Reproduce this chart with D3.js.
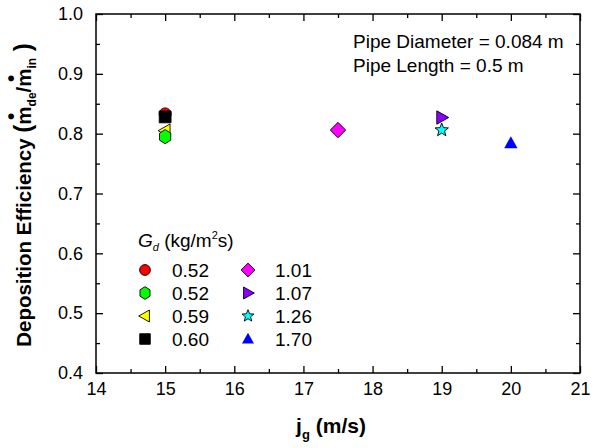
<!DOCTYPE html>
<html><head><meta charset="utf-8">
<script src="https://cdn.jsdelivr.net/npm/d3@7"></script>
<style>body{margin:0;background:#fff}svg{display:block}text{font-family:"Liberation Sans",Arial,sans-serif}</style>
</head><body>
<svg id="c" width="603" height="448"></svg>
<script>
// ---- data ----
const categories = ["0.52","0.52","0.59","0.60","1.01","1.07","1.26","1.70"];
const xValues = [15, 15, 15, 15, 17.5, 19, 19, 20];
const yValues = [0.833, 0.795, 0.805, 0.828, 0.806, 0.827, 0.806, 0.784];
const xTicks = [14,15,16,17,18,19,20,21];
const yTicks = [0.4,0.5,0.6,0.7,0.8,0.9,1.0];
const annotations = ["Pipe Diameter = 0.084 m","Pipe Length = 0.5 m"];
// ---- styles ----
const shapes = ["circle","hexagon","triLeft","square","diamond","triRight","star","triUp"];
const colors = ["#ff0000","#00ff00","#ffff00","#000000","#ff00ff","#8a00ff","#00ffff","#0000ff"];
const drawOrder = [0,2,1,3,4,5,6,7];

const svg = d3.select("#c");
const L=96, R=580, T=14, B=373;
const x = d3.scaleLinear().domain([14,21]).range([L,R]);
const y = d3.scaleLinear().domain([0.4,1.0]).range([B,T]);

function shapePath(s, r){
  const p = d3.path();
  if(s==="circle"){ p.arc(0,0,r*0.9,0,2*Math.PI); p.closePath(); }
  else if(s==="square"){ const a=r*0.88; p.rect(-a,-a,2*a,2*a); }
  else if(s==="diamond"){ const a=r*1.15; p.moveTo(0,-a);p.lineTo(a,0);p.lineTo(0,a);p.lineTo(-a,0);p.closePath(); }
  else if(s==="hexagon"){ const a=r*1.05; for(let i=0;i<6;i++){const t=Math.PI/6+i*Math.PI/3; const px=a*0.92*Math.cos(t), py=a*Math.sin(t); if(i===0)p.moveTo(px,py); else p.lineTo(px,py);} p.closePath(); }
  else if(s.startsWith("tri")){
    const a=r*1.05;
    let pts=[[0,-a],[a*0.95,a*0.7],[-a*0.95,a*0.7]];
    let rot = s==="triUp"?0 : s==="triRight"?90 : -90;
    const th=rot*Math.PI/180;
    pts=pts.map(([px,py])=>[px*Math.cos(th)-py*Math.sin(th), px*Math.sin(th)+py*Math.cos(th)]);
    p.moveTo(...pts[0]);p.lineTo(...pts[1]);p.lineTo(...pts[2]);p.closePath();
  }
  else if(s==="star"){
    const ro=r*1.05, ri=r*0.45;
    for(let i=0;i<10;i++){const rr=i%2?ri:ro; const t=-Math.PI/2+i*Math.PI/5; const px=rr*Math.cos(t), py=rr*Math.sin(t); if(i===0)p.moveTo(px,py); else p.lineTo(px,py);} p.closePath();
  }
  return p.toString();
}
function strokeFor(i){ return i===7 ? "none" : "#000"; }

// axes
function mkAxis(axisFn, vals, size, labels, pad){
  const a = axisFn.tickValues(vals).tickSizeInner(-size).tickSizeOuter(0).tickPadding(pad);
  if(!labels) a.tickFormat("");
  return a;
}
const minorX = d3.range(14.5,21,1);
const minorY = [0.45,0.55,0.65,0.75,0.85,0.95];
function styleAxis(g){ g.select(".domain").remove(); g.selectAll("line").attr("stroke","#000").attr("stroke-width",1.3); g.selectAll("text").attr("font-size","18px").attr("fill","#000").attr("font-family","Liberation Sans, Arial, sans-serif"); }

svg.append("g").attr("transform",`translate(0,${B})`).call(mkAxis(d3.axisBottom(x),xTicks,7,true,9).tickFormat(d3.format("d"))).call(styleAxis);
svg.append("g").attr("transform",`translate(0,${B})`).call(mkAxis(d3.axisBottom(x),minorX,4,false,0)).call(styleAxis);
svg.append("g").attr("transform",`translate(0,${T})`).call(mkAxis(d3.axisTop(x),xTicks,7,false,0)).call(styleAxis);
svg.append("g").attr("transform",`translate(0,${T})`).call(mkAxis(d3.axisTop(x),minorX,4,false,0)).call(styleAxis);
svg.append("g").attr("transform",`translate(${L},0)`).call(mkAxis(d3.axisLeft(y),yTicks,7,true,13).tickFormat(d3.format(".1f"))).call(styleAxis);
svg.append("g").attr("transform",`translate(${L},0)`).call(mkAxis(d3.axisLeft(y),minorY,4,false,0)).call(styleAxis);
svg.append("g").attr("transform",`translate(${R},0)`).call(mkAxis(d3.axisRight(y),yTicks,7,false,0)).call(styleAxis);
svg.append("g").attr("transform",`translate(${R},0)`).call(mkAxis(d3.axisRight(y),minorY,4,false,0)).call(styleAxis);

svg.append("rect").attr("x",L).attr("y",T).attr("width",R-L).attr("height",B-T).attr("fill","none").attr("stroke","#000").attr("stroke-width",1.5);

// points
svg.append("g").selectAll("path").data(drawOrder).join("path")
  .attr("d",i=>shapePath(shapes[i],6.7))
  .attr("transform",i=>`translate(${x(xValues[i])},${y(yValues[i])})`)
  .attr("fill",i=>colors[i]).attr("stroke",i=>strokeFor(i)).attr("stroke-width",0.9);

// annotations
svg.append("g").selectAll("text").data(annotations).join("text")
  .attr("x",353).attr("y",(d,i)=>48+i*24).attr("font-size","19px").attr("fill","#000").text(d=>d);

// legend
const lt = svg.append("text").attr("x",138).attr("y",247).attr("font-size","19px").attr("fill","#000");
lt.append("tspan").attr("font-style","italic").text("G");
lt.append("tspan").attr("font-style","italic").attr("font-size","11px").attr("dy",4).text("d");
lt.append("tspan").attr("dy",-4).text(" (kg/m");
lt.append("tspan").attr("font-size","11px").attr("dy",-8).text("2");
lt.append("tspan").attr("dy",8).text("s)");

const leg = svg.append("g").selectAll("g").data(categories.map((c,i)=>i)).join("g")
  .attr("transform",i=>`translate(${i<4?145:248},${270+(i%4)*23})`);
leg.append("path").attr("d",i=>shapePath(shapes[i],6)).attr("fill",i=>colors[i]).attr("stroke",i=>strokeFor(i)).attr("stroke-width",0.9);
leg.append("text").attr("x",27).attr("y",7).attr("font-size","19px").attr("fill","#000").text(i=>categories[i]);

// axis titles
const xt = svg.append("text").attr("x",331).attr("y",433).attr("text-anchor","middle").attr("font-size","21px").attr("font-weight","bold").attr("fill","#000");
xt.append("tspan").text("j");
xt.append("tspan").attr("font-size","13px").attr("dy",6).text("g");
xt.append("tspan").attr("dy",-6).text(" (m/s)");

const yt = svg.append("text").attr("transform","translate(31,195) rotate(-90)").attr("text-anchor","middle").attr("font-size","20.5px").attr("font-weight","bold").attr("fill","#000");
yt.append("tspan").text("Deposition Efficiency ");
yt.append("tspan").attr("font-size","24px").text("(");
// m with a raised dot
yt.append("tspan").text("m");
yt.append("tspan").attr("dx",-13.5).attr("dy",-13).text("•");
yt.append("tspan").attr("font-size","12px").attr("dx",6.3).attr("dy",18).text("de");
yt.append("tspan").attr("dy",-5).text("/m");
yt.append("tspan").attr("dx",-13.5).attr("dy",-13).text("•");
yt.append("tspan").attr("font-size","12px").attr("dx",6.3).attr("dy",18).text("in");
yt.append("tspan").attr("dy",-5).attr("font-size","24px").text(" )");
</script>
</body></html>
